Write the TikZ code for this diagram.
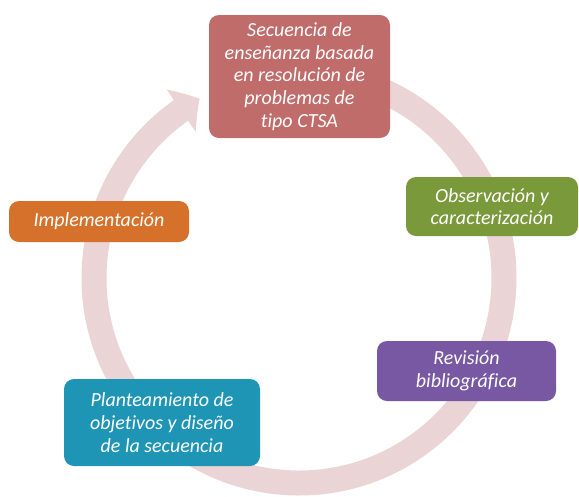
\documentclass[tikz,border=0pt]{standalone}
\usepackage{fontspec}
\setmainfont{Carlito}[Ligatures=NoCommon]
\usetikzlibrary{arrows.meta,bending}
\definecolor{ringc}{HTML}{EAD4D5}
\definecolor{seqc}{HTML}{C06C6B}
\definecolor{obsc}{HTML}{7A993B}
\definecolor{revc}{HTML}{7858A2}
\definecolor{planc}{HTML}{1E95B5}
\definecolor{implc}{HTML}{D5712B}
\begin{document}
\begin{tikzpicture}[x=1pt,y=-1pt]
 \tikzset{
  box/.style={rounded corners=10pt, inner sep=0pt, text=white, align=center,
   font=\fontsize{20}{22.7}\selectfont\itshape},
  ring/.style={line width=25pt, ringc, -{Triangle[width=50pt,length=22pt,bend]}}
 }
 \useasboundingbox (0,0) rectangle (579,496);

 \coordinate (c) at (299,278);
 \draw [ring] (c) ++(-85:205) arc [start angle=-85, end angle=241, radius=205];

 \node [box, fill=seqc, minimum width=181pt, minimum height=123pt] (seq) at (299.5,76.5)
  {Secuencia de\\enseñanza basada\\en resolución de\\problemas de\\tipo CTSA};
 \node [box, fill=obsc, minimum width=172pt, minimum height=59pt] (obs) at (492,206.5)
  {Observación y\\caracterización};
 \node [box, fill=revc, minimum width=179pt, minimum height=60pt] (rev) at (466.5,371)
  {Revisión\\bibliográfica};
 \node [box, fill=planc, minimum width=196pt, minimum height=87pt] (plan) at (162,422.5)
  {Planteamiento de\\objetivos y diseño\\de la secuencia};
 \node [box, fill=implc, minimum width=180pt, minimum height=41pt] (impl) at (99,221.5)
  {Implementación};
\end{tikzpicture}
\end{document}
